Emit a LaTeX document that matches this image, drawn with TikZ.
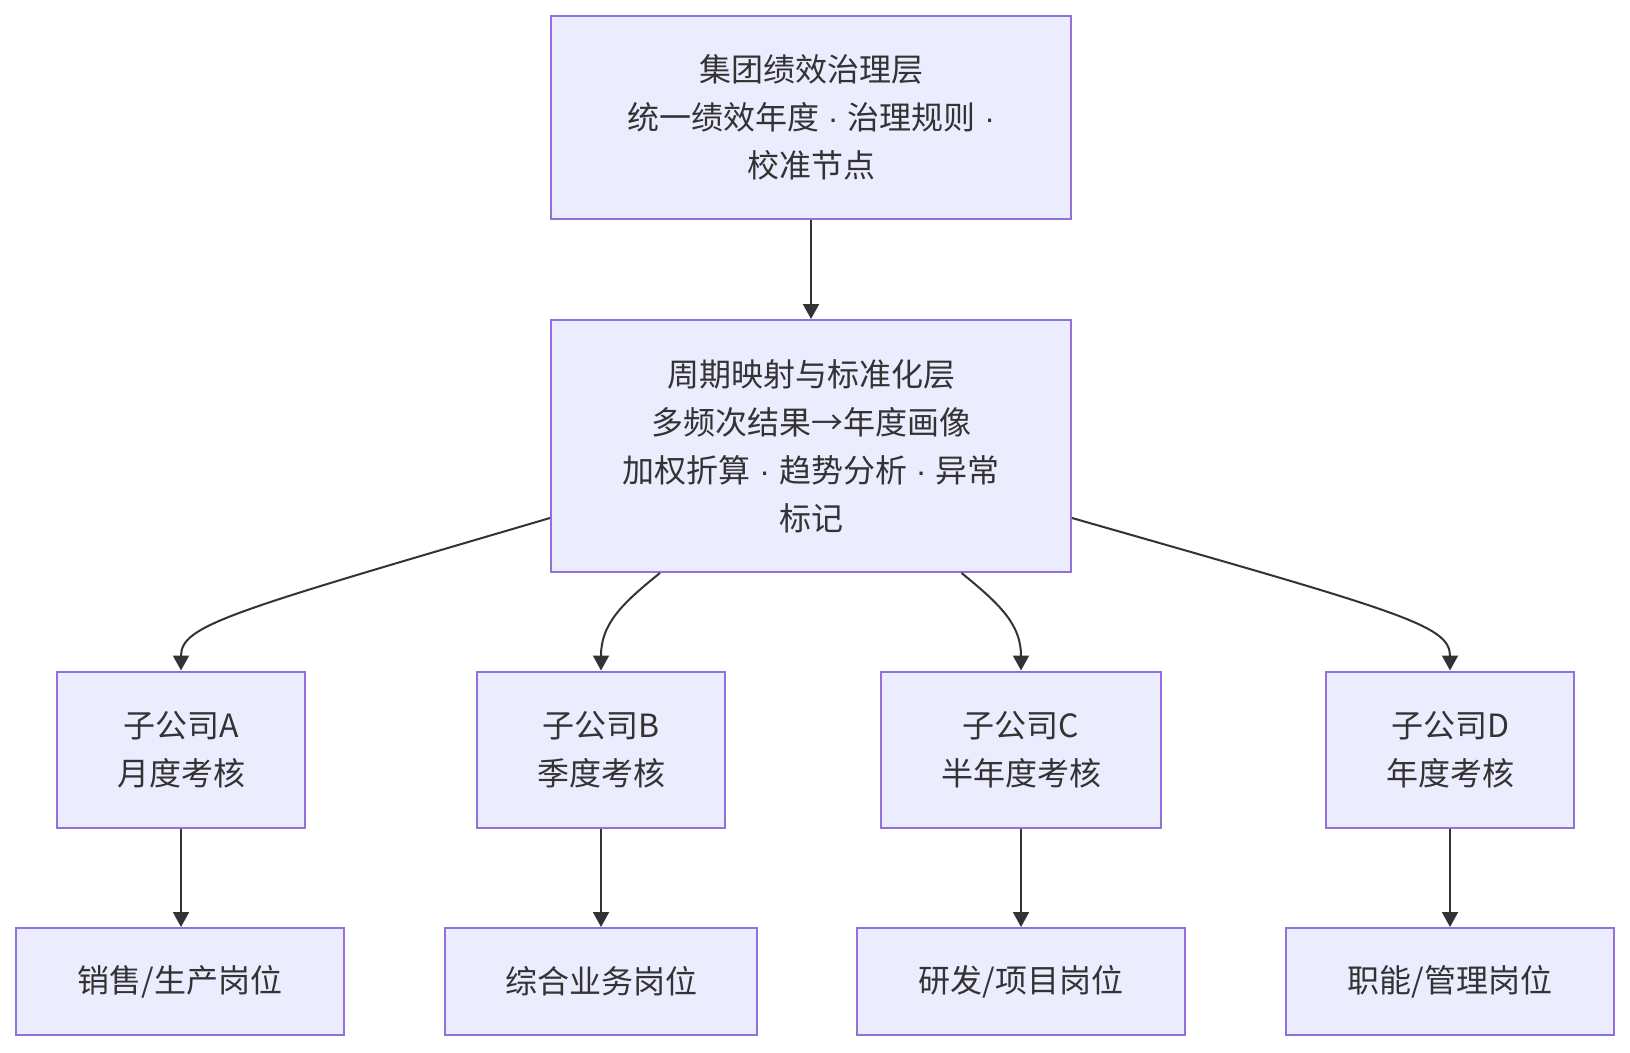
\documentclass[tikz,border=0pt]{standalone}
\usepackage{fontspec}
\newfontfamily\cjk{Noto Sans CJK SC}
\newfontfamily\latinf{Liberation Sans}
\newcommand{\md}{{\latinf\ ·\ }}
\usetikzlibrary{arrows.meta,calc}
\definecolor{boxfill}{HTML}{ECECFF}
\definecolor{boxline}{HTML}{9370DB}
\definecolor{txt}{HTML}{333333}
\definecolor{edge}{HTML}{333333}
\begin{document}
\begin{tikzpicture}[x=1pt,y=-1pt,
  box/.style={draw=boxline,fill=boxfill,line width=2pt,inner sep=0pt,
    text=txt,font=\cjk\fontsize{32}{48}\selectfont,align=center},
  conn/.style={draw=edge,line width=2pt,-{Triangle[length=15pt,width=16pt]}}]
\useasboundingbox (0,0) rectangle (1630,1052);
\fill[white] (0,0) rectangle (1630,1052);
% nodes
\node[box,minimum width=520pt,minimum height=203pt] (top) at (811,117) {集团绩效治理层\\统一绩效年度\md 治理规则\md\\校准节点};
\node[box,minimum width=520pt,minimum height=252pt] (mid) at (811,446) {周期映射与标准化层\\多频次结果→年度画像\\加权折算\md 趋势分析\md 异常\\标记};
\node[box,minimum width=248pt,minimum height=156pt] (a) at (181,749.5) {子公司A\\月度考核};
\node[box,minimum width=248pt,minimum height=156pt] (b) at (601,749.5) {子公司B\\季度考核};
\node[box,minimum width=280pt,minimum height=156pt] (c) at (1021,749.5) {子公司C\\半年度考核};
\node[box,minimum width=248pt,minimum height=156pt] (d) at (1450,749.5) {子公司D\\年度考核};
\node[box,minimum width=328pt,minimum height=107pt] (a2) at (180,981.5) {销售/生产岗位};
\node[box,minimum width=312pt,minimum height=107pt] (b2) at (601,981.5) {综合业务岗位};
\node[box,minimum width=328pt,minimum height=107pt] (c2) at (1021,981.5) {研发/项目岗位};
\node[box,minimum width=328pt,minimum height=107pt] (d2) at (1450,981.5) {职能/管理岗位};
% connectors
\draw[conn] (top.south) -- (mid.north);
\draw[conn] ($(mid.west)+(0,72)$) .. controls (230,612) and (181,625) .. (a.north);
\draw[conn] ($(mid.south)+(-151,0)$) .. controls (620,605) and (601,625) .. (b.north);
\draw[conn] ($(mid.south)+(150.5,0)$) .. controls (1001,605) and (1021,625) .. (c.north);
\draw[conn] ($(mid.east)+(0,72)$) .. controls (1401,612) and (1450,625) .. (d.north);
\draw[conn] (a.south) -- (a.south |- a2.north);
\draw[conn] (b.south) -- (b2.north);
\draw[conn] (c.south) -- (c2.north);
\draw[conn] (d.south) -- (d2.north);
\end{tikzpicture}
\end{document}
